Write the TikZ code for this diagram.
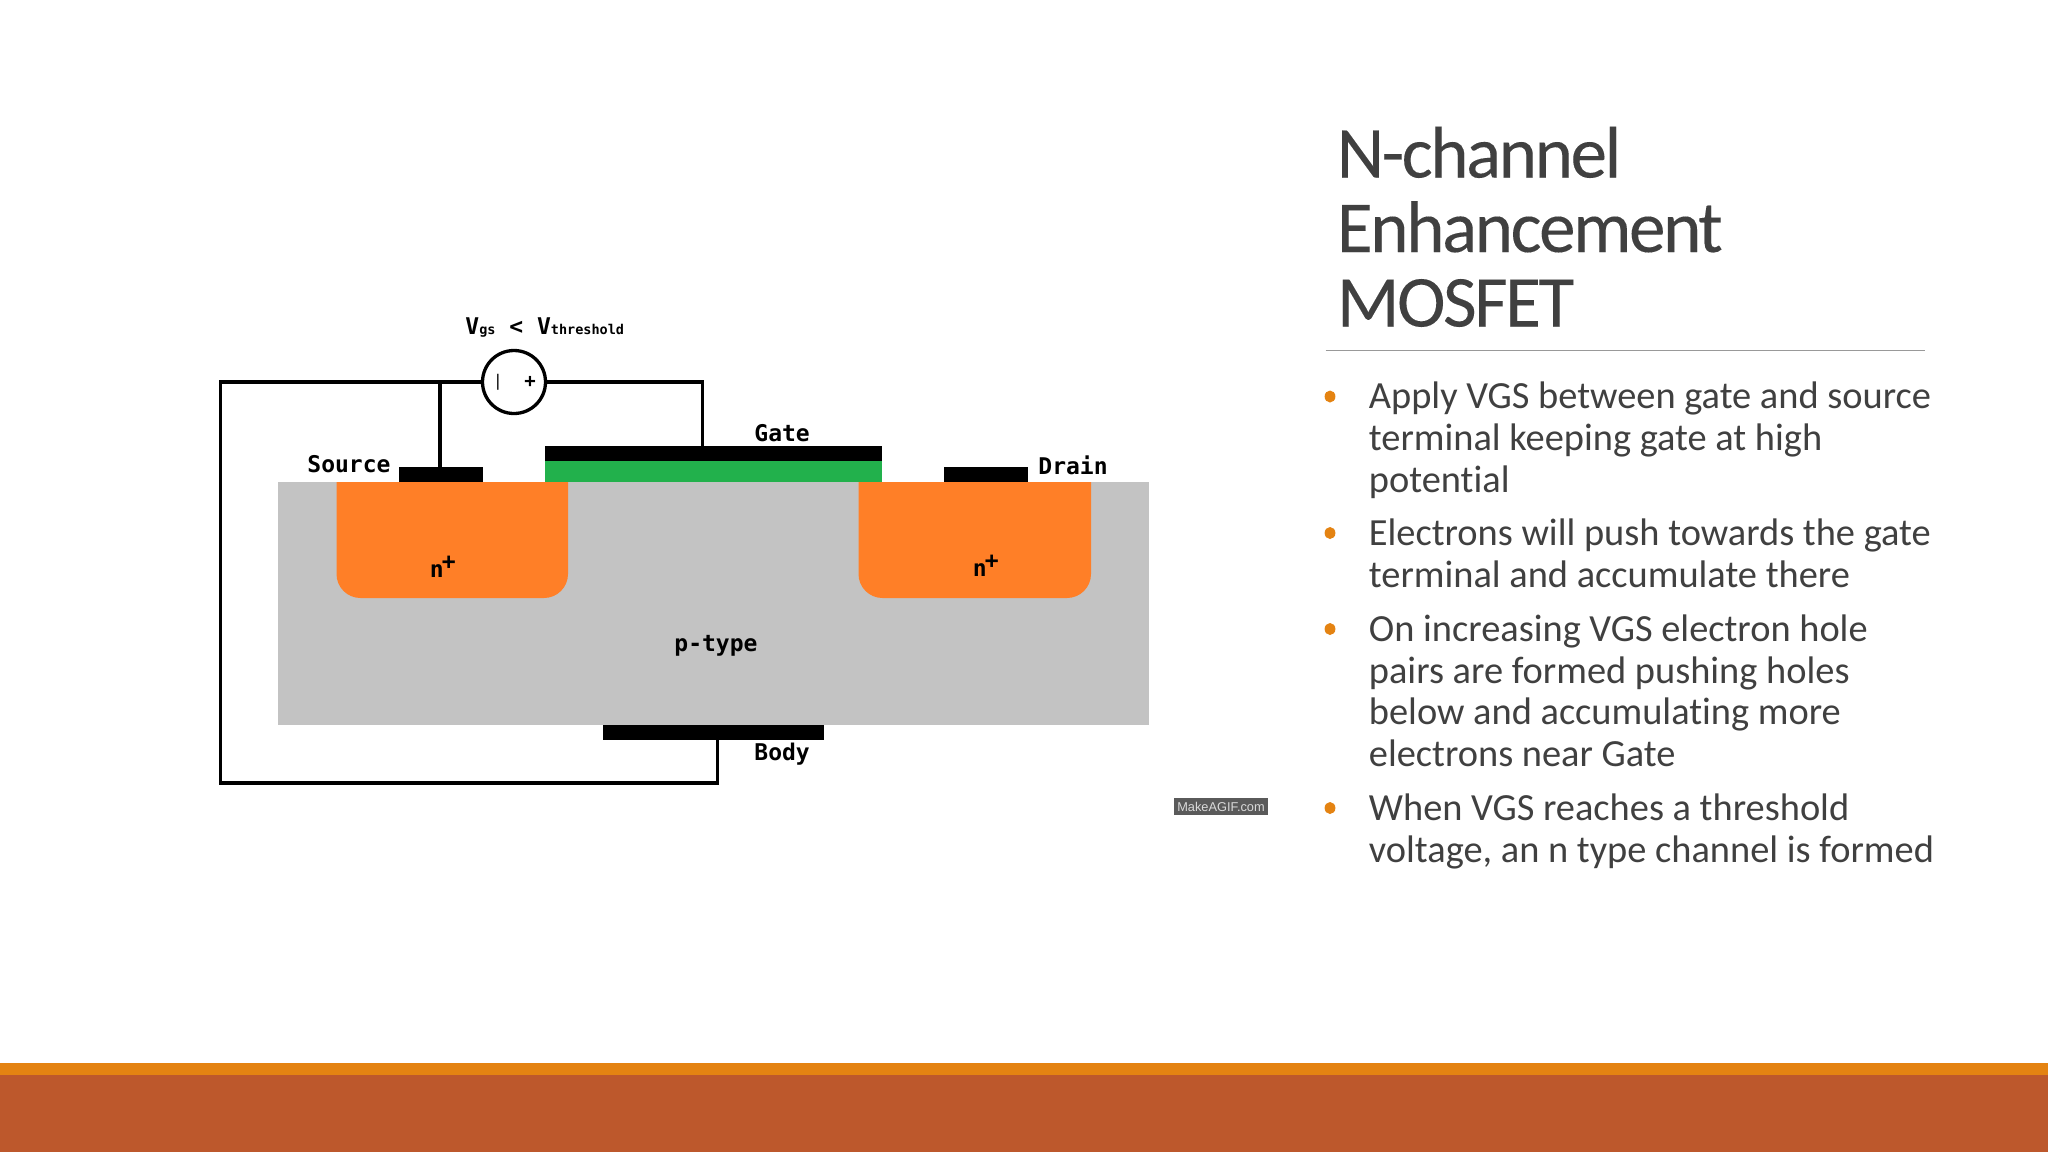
\documentclass[tikz,border=0pt]{standalone}
\usepackage{fontspec}
\setmainfont[Ligatures=NoCommon]{Carlito}
\newfontfamily\titlef[Ligatures=NoCommon,LetterSpace=-3.4,FakeBold=0.1]{Carlito}
\newfontfamily\monof{DejaVu Sans Mono}
\newfontfamily\arialf{Liberation Sans}
\definecolor{barorange}{HTML}{E48312}
\definecolor{barrust}{HTML}{BD582C}
\definecolor{slidetext}{HTML}{404040}
\definecolor{pgray}{HTML}{C3C3C3}
\definecolor{nplus}{HTML}{FF7F27}
\definecolor{oxide}{HTML}{22B14C}
\definecolor{rulegray}{HTML}{999999}
\definecolor{badge}{HTML}{5A5A5A}
\tikzset{
  wire/.style={draw=black,line width=1.65pt,line join=miter},
  metal/.style={fill=black,draw=none,inner sep=0pt,minimum height=7.5pt,rectangle},
  lbl/.style={anchor=base west,inner sep=0pt,font=\monof\bfseries\fontsize{11.5pt}{13pt}\selectfont,text=black},
  titletext/.style={anchor=base west,inner sep=0pt,align=left,text=slidetext,font=\titlef\fontsize{36.6pt}{37.25pt}\selectfont},
  bodytext/.style={anchor=base west,inner sep=0pt,align=left,text=slidetext,font=\fontsize{19.2pt}{20.9pt}\selectfont},
  bulletdot/.style={ellipse,fill=barorange,draw=none,inner sep=0pt,minimum width=5.4pt,minimum height=6pt},
}
\usetikzlibrary{shapes.geometric}
\begin{document}
\begin{tikzpicture}[x=0.5pt,y=-0.5pt]
\useasboundingbox (0,0) rectangle (2048,1152);
\fill[white] (0,0) rectangle (2048,1152);
% footer bars
\fill[barorange] (0,1063) rectangle (2048,1075);
\fill[barrust] (0,1075) rectangle (2048,1152);
% device
\fill[pgray] (278,482) rectangle (1149,725);
\fill[nplus] (336.5,482) [rounded corners=12pt] -- (336.5,598) -- (568,598) [sharp corners] -- (568,482) -- cycle;
\fill[nplus] (858.5,482) [rounded corners=12pt] -- (858.5,598) -- (1091,598) [sharp corners] -- (1091,482) -- cycle;
\fill[oxide] (544.5,461) rectangle (881.5,482);
\node[metal,minimum width=168.5pt] (gatem) at (713,453.5) {};
\node[metal,minimum width=41.75pt] (srcm) at (441,474.5) {};
\node[metal,minimum width=42pt] (drnm) at (986,474.5) {};
\node[metal,minimum width=110.3pt] (bodym) at (713.7,732.5) {};
% source
\node[circle,draw=black,line width=1.65pt,fill=white,minimum size=31.5pt,inner sep=0pt] (vsrc) at (514,382) {};
\node[inner sep=0pt,font=\monof\fontsize{8pt}{9pt}\selectfont] (vminus) at (498,382) {|};
\node[inner sep=0pt,font=\monof\bfseries\fontsize{9.5pt}{10pt}\selectfont] (vplus) at (530,382) {+};
\coordinate (jn) at (440,382);
\coordinate (srctap) at (440,467);
\coordinate (gatecorner) at (702.6,382);
\coordinate (gatetap) at (702.6,446);
\coordinate (tl) at (220.5,382);
\coordinate (bl) at (220.5,783);
\coordinate (br) at (717.6,783);
\coordinate (bodytap) at (717.6,740);
\draw[wire] (vsrc.east) -- (gatecorner) -- (gatetap);
\draw[wire] (vsrc.west) -- (tl) -- (bl) -- (br) -- (bodytap);
\draw[wire] (jn) -- (srctap);
% labels
\node[lbl] (vgs) at (465,334.5) {V{\fontsize{6.75pt}{7pt}\selectfont gs} < V{\fontsize{6.75pt}{7pt}\selectfont threshold}};
\node[lbl] (lsrc) at (307,472) {Source};
\node[lbl] (lgate) at (754,441.5) {Gate};
\node[lbl] (ldrn) at (1038,474) {Drain};
\node[lbl] (lbody) at (754,760.5) {Body};
\node[lbl] (ptype) at (674,651.5) {p-type};
\node[lbl] (nl) at (429.5,577) {n\kern-1pt\raisebox{4pt}{\fontsize{11.5pt}{12pt}\selectfont +}};
\node[lbl] (nr) at (972.5,576) {n\kern-1pt\raisebox{4pt}{\fontsize{11.5pt}{12pt}\selectfont +}};
% badge
\node[fill=badge,text=white!85!black,inner sep=0pt,minimum width=47pt,minimum height=8.5pt,font=\arialf\fontsize{6.4pt}{8pt}\selectfont] (badge) at (1221,806.5) {MakeAGIF.com};
% title
\node[titletext] (title) at (1336.5,326.5) {N-channel\\Enhancement\\MOSFET};
\draw[rulegray,line width=0.7pt] (1325.5,350.5) -- (1925,350.5);
% bullets
\node[bulletdot] (b1) at (1330,396.5) {};
\node[bulletdot] (b2) at (1330,533) {};
\node[bulletdot] (b3) at (1330,629) {};
\node[bulletdot] (b4) at (1330,808) {};
\node[bodytext] (t1) at (1368.5,492.4) {Apply VGS between gate and source\\terminal keeping gate at high\\potential};
\node[bodytext] (t2) at (1368.5,587.7) {Electrons will push towards the gate\\terminal and accumulate there};
\node[bodytext] (t3) at (1368.5,766.6) {On increasing VGS electron hole\\pairs are formed pushing holes\\below and accumulating more\\electrons near Gate};
\node[bodytext] (t4) at (1368.5,862) {When VGS reaches a threshold\\voltage, an n type channel is formed};
\end{tikzpicture}
\end{document}
